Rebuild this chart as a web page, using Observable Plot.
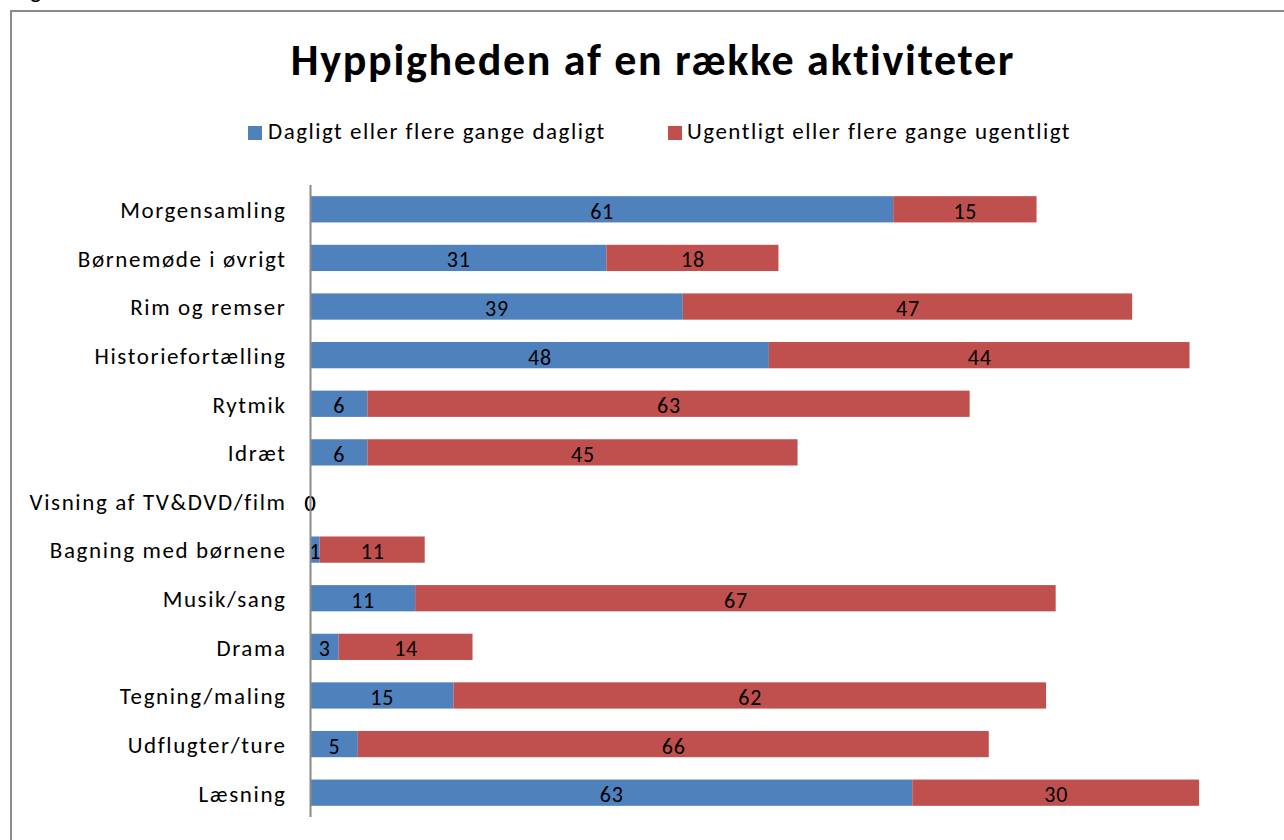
<!DOCTYPE html>
<html><head><meta charset="utf-8">
<script src="https://cdn.jsdelivr.net/npm/d3@7"></script>
<script src="https://cdn.jsdelivr.net/npm/@observablehq/plot@0.6"></script>
<style>
body{margin:0;background:#fff;font-family:Carlito,Calibri,Lato,sans-serif;}
#wrap{position:relative;width:1284px;height:840px;overflow:hidden;background:#fff;}
#frame{position:absolute;left:10px;top:10px;width:1300px;height:900px;border:2px solid #8a8a8a;box-sizing:border-box;}
#stray{position:absolute;left:30px;top:-22px;font-size:24px;line-height:24px;color:#000;}
#title{position:absolute;left:0;width:1306px;top:38px;line-height:44px;text-align:center;font-weight:bold;font-size:44px;letter-spacing:1.7px;color:#000;}
.lg{position:absolute;top:120px;font-size:23px;line-height:23px;letter-spacing:1.5px;color:#000;white-space:nowrap;}
.sw{position:absolute;top:126px;width:14px;height:14px;}
#chart{position:absolute;left:0;top:160px;}
</style></head>
<body>
<div id="wrap">
  <div id="frame"></div>
  <div id="stray">g</div>
  <div id="title">Hyppigheden af en række aktiviteter</div>
  <div id="legend"></div>
  <div id="chart"></div>
</div>
<script>
const categories = ["Morgensamling","Børnemøde i øvrigt","Rim og remser","Historiefortælling","Rytmik","Idræt","Visning af TV&DVD/film","Bagning med børnene","Musik/sang","Drama","Tegning/maling","Udflugter/ture","Læsning"];
const seriesNames = ["Dagligt eller flere gange dagligt","Ugentligt eller flere gange ugentligt"];
const seriesColors = ["#4F81BD","#C0504D"];
const daily  = [61,31,39,48,6,6,0,1,11,3,15,5,63];
const weekly = [15,18,47,44,63,45,0,11,67,14,62,66,30];

const data = [];
categories.forEach((c,i)=>{
  data.push({cat:c, series:seriesNames[0], value:daily[i]});
  data.push({cat:c, series:seriesNames[1], value:weekly[i]});
});

// legend
const leg = document.getElementById("legend");
const legPos = [[248,268],[668,687]];
leg.innerHTML = seriesNames.map((s,i)=>
  `<div class="sw" style="left:${legPos[i][0]}px;background:${seriesColors[i]}"></div>` +
  `<div class="lg" style="left:${legPos[i][1]}px">${s}</div>`).join("");

const chart = Plot.plot({
  width: 1284,
  height: 680,
  marginTop: 25,
  marginBottom: 23,
  marginLeft: 310,
  marginRight: 18,
  style: {fontFamily: "Carlito, Calibri, Lato, sans-serif", background: "transparent"},
  x: {domain: [0, 100], axis: null},
  y: {domain: categories, paddingInner: 0.46, paddingOuter: 0.23, round: false, label: null},
  color: {domain: seriesNames, range: seriesColors},
  marks: [
    Plot.barX(data, {x: "value", y: "cat", fill: "series", order: seriesNames}),
    Plot.text(data, Plot.stackX({x: "value", y: "cat", z: "series", order: seriesNames, text: d => String(d.value), fill: "#000", fontSize: 22, dy: 2})),
    Plot.axisY({tickSize: 0, tickPadding: 24, fontSize: 23, label: null, textAnchor: "end", fill: "#000", dy: 1}),
    Plot.ruleX([0], {stroke: "#8a8a8a", strokeWidth: 2})
  ]
});
chart.querySelectorAll("[aria-label='y-axis tick label'] text").forEach(t => t.style.letterSpacing = "1.6px");
chart.querySelectorAll("[aria-label='text'] text").forEach(t => t.style.letterSpacing = "0.8px");
document.getElementById("chart").appendChild(chart);
</script>
</body></html>
